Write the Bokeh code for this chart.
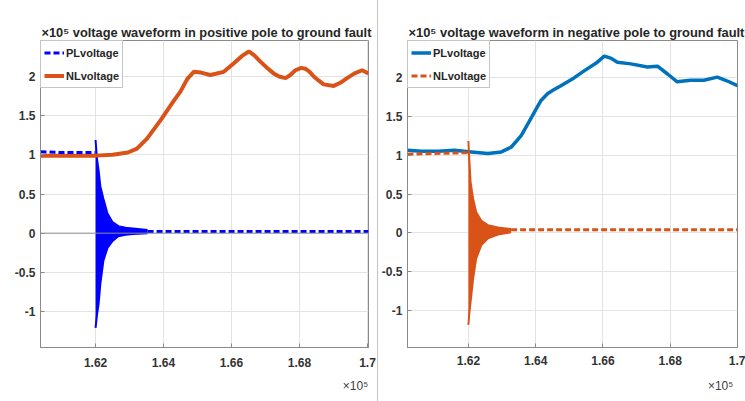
from bokeh.plotting import figure
from bokeh.layouts import row
from bokeh.models import Range1d, FixedTicker, Legend, LegendItem, Span, LinearAxis
from bokeh.embed import file_html
from bokeh.resources import INLINE

nan = float("nan")

# ---------------- data (time axis in units of 1e5) ----------------
x_ticks = [1.62, 1.64, 1.66, 1.68, 1.70]
x_tick_labels = ["1.62", "1.64", "1.66", "1.68", "1.7"]
y_ticks = [-1, -0.5, 0, 0.5, 1, 1.5, 2]
y_tick_labels = ["-1", "-0.5", "0", "0.5", "1", "1.5", "2"]
exp_label = "×10⁵"

# Left panel: positive pole to ground fault
left_title = "voltage waveform in positive pole to ground fault"
t_nl_L = [1.6038, 1.6100, 1.6150, 1.6200, 1.6250, 1.6295, 1.6322, 1.6352, 1.6391, 1.6430,
          1.6450, 1.6470, 1.6489, 1.6510, 1.6538, 1.6577, 1.6607, 1.6630, 1.6651, 1.6667,
          1.6685, 1.6705, 1.6724, 1.6740, 1.6759, 1.6773, 1.6788, 1.6805, 1.6817, 1.6830,
          1.6842, 1.6856, 1.6871, 1.6901, 1.6920, 1.6940, 1.6962, 1.6984, 1.7003]
v_nl_L = [0.99, 0.99, 0.99, 0.99, 1.00, 1.03, 1.08, 1.21, 1.44, 1.69,
          1.81, 1.97, 2.06, 2.05, 2.02, 2.06, 2.17, 2.26, 2.32, 2.27,
          2.19, 2.11, 2.04, 2.00, 1.98, 2.02, 2.08, 2.11, 2.10, 2.06,
          2.00, 1.95, 1.90, 1.88, 1.92, 1.98, 2.04, 2.08, 2.04]
t_pl_L = [1.6038, 1.6100, 1.6199, nan, 1.6353, 1.6500, 1.6700, 1.7003]
v_pl_L = [1.04, 1.03, 1.03, nan, 0.02, 0.02, 0.02, 0.02]
t_osc_L = [1.6200, 1.6204, 1.6209, 1.6214, 1.6223, 1.6235, 1.6250, 1.6267, 1.6288, 1.6310, 1.6353]
up_osc_L = [1.19, 0.95, 0.80, 0.60, 0.44, 0.25, 0.14, 0.09, 0.07, 0.06, 0.04]
lo_osc_L = [-1.21, -1.05, -0.90, -0.65, -0.35, -0.19, -0.10, -0.04, -0.02, -0.01, 0.00]

# Right panel: negative pole to ground fault
right_title = "voltage waveform in negative pole to ground fault"
t_pl_R = [1.6019, 1.6060, 1.6110, 1.6158, 1.6209, 1.6258, 1.6298, 1.6327, 1.6357, 1.6386,
          1.6400, 1.6416, 1.6436, 1.6455, 1.6475, 1.6514, 1.6544, 1.6580, 1.6604, 1.6625,
          1.6643, 1.6683, 1.6732, 1.6762, 1.6792, 1.6821, 1.6860, 1.6900, 1.6940, 1.6970,
          1.7000]
v_pl_R = [1.06, 1.05, 1.05, 1.06, 1.04, 1.02, 1.04, 1.10, 1.25, 1.47,
          1.58, 1.70, 1.79, 1.84, 1.89, 1.99, 2.08, 2.18, 2.27, 2.24,
          2.19, 2.17, 2.13, 2.14, 2.04, 1.94, 1.96, 1.96, 2.00, 1.95,
          1.89]
t_nl_R = [1.6019, 1.6100, 1.6199, nan, 1.6327, 1.6500, 1.6700, 1.7000]
v_nl_R = [1.01, 1.02, 1.03, nan, 0.04, 0.04, 0.04, 0.04]
t_osc_R = [1.6200, 1.6203, 1.62066, 1.6214, 1.6223, 1.6238, 1.6258, 1.6288, 1.6327]
up_osc_R = [1.18, 0.92, 0.65, 0.44, 0.27, 0.16, 0.10, 0.07, 0.05]
lo_osc_R = [-1.18, -1.02, -0.88, -0.59, -0.33, -0.16, -0.07, -0.02, 0.01]

BLUE_PURE = "#0000FF"
BLUE = "#0072BD"
ORANGE = "#D95319"
FONT = "Liberation Sans"
TXT = "#262626"
AX = "#8a8a8a"


def make_fig(width, mbl, mbr, mbt, mbb, xr, yr, title_text, title_size, x_standoff,
             exp_px_from_right, exp_standoff):
    p = figure(width=width, height=401, output_backend="svg", toolbar_location=None,
               x_range=Range1d(*xr), y_range=Range1d(*yr),
               min_border_left=mbl, min_border_right=mbr,
               min_border_top=mbt, min_border_bottom=mbb)
    p.background_fill_color = "white"
    p.border_fill_color = "white"
    p.outline_line_color = AX
    p.outline_line_width = 1
    p.xaxis.ticker = FixedTicker(ticks=x_ticks)
    p.xaxis.major_label_overrides = {t: s for t, s in zip(x_ticks, x_tick_labels)}
    p.yaxis.ticker = FixedTicker(ticks=y_ticks)
    p.yaxis.major_label_overrides = {t: s for t, s in zip(y_ticks, y_tick_labels)}
    for ax in (p.xaxis[0], p.yaxis[0]):
        ax.axis_line_color = AX
        ax.major_tick_line_color = AX
        ax.major_tick_in = 4
        ax.major_tick_out = 0
        ax.minor_tick_line_color = None
        ax.major_label_text_font = FONT
        ax.major_label_text_font_style = "bold"
        ax.major_label_text_font_size = "12px"
        ax.major_label_text_color = "#333333"
    p.xaxis.major_label_standoff = x_standoff
    p.yaxis.major_label_standoff = 5
    p.xgrid.grid_line_color = "#e3e3e3"
    p.ygrid.grid_line_color = "#e3e3e3"
    p.xgrid.ticker = FixedTicker(ticks=x_ticks)
    p.ygrid.ticker = FixedTicker(ticks=y_ticks)

    p.title.text = exp_label + " " + title_text
    p.title.align = "left"
    p.title.offset = 1
    p.title.standoff = 2
    p.title.text_font = FONT
    p.title.text_font_style = "bold"
    p.title.text_font_size = title_size
    p.title.text_color = TXT

    # MATLAB-style exponent label under the x tick labels, near the right end
    frame_w = width - mbl - mbr
    pos = round(xr[1] - exp_px_from_right * (xr[1] - xr[0]) / frame_w, 5)
    exp_axis = LinearAxis(ticker=FixedTicker(ticks=[pos]),
                          major_label_overrides={pos: exp_label},
                          axis_line_color=None, major_tick_line_color=None,
                          minor_tick_line_color=None, major_tick_in=0, major_tick_out=0,
                          major_label_standoff=exp_standoff,
                          major_label_text_font=FONT, major_label_text_font_size="12px",
                          major_label_text_color="#404040")
    p.add_layout(exp_axis, "below")
    return p


def add_legend(p, r1, r2):
    lg = Legend(items=[LegendItem(label="PLvoltage", renderers=[r1]),
                       LegendItem(label="NLvoltage", renderers=[r2])],
                location="top_left", margin=0, padding=3, spacing=6,
                label_height=17, glyph_height=17, glyph_width=20, label_standoff=2,
                label_text_font=FONT, label_text_font_style="bold",
                label_text_font_size="11px", label_text_color=TXT,
                border_line_color="#8c8c8c", background_fill_color="white",
                background_fill_alpha=1)
    p.add_layout(lg)


# ---------------- left figure ----------------
xrL = (1.6038, 1.7003)
yrL = (-1.46, 2.46)
p1 = make_fig(378, 40, 10, 40, 49, xrL, yrL, left_title, "12.8px", 10, 13, 9)
p1.add_layout(Span(location=0, dimension="width", line_color="#8f8f8f", line_width=1))
p1.varea(x=t_osc_L, y1=lo_osc_L, y2=up_osc_L, fill_color=BLUE_PURE)
p1.line(t_osc_L, up_osc_L, line_color=BLUE_PURE, line_width=2)
p1.line(t_osc_L, lo_osc_L, line_color=BLUE_PURE, line_width=2)
r_nl_L = p1.line(t_nl_L, v_nl_L, line_color=ORANGE, line_width=4)
r_pl_L = p1.line(t_pl_L, v_pl_L, line_color=BLUE_PURE, line_width=3, line_dash="6 3")
add_legend(p1, r_pl_L, r_nl_L)
p1.styles = {"border-right": "1px solid #c4c4c4"}

# ---------------- right figure ----------------
xrR = (1.6019, 1.7000)
yrR = (-1.47, 2.47)
p2 = make_fig(367, 28, 8, 38, 54, xrR, yrR, right_title, "12.9px", 8, 17, 11)
r_pl_R = p2.line(t_pl_R, v_pl_R, line_color=BLUE, line_width=3.5)
p2.varea(x=t_osc_R, y1=lo_osc_R, y2=up_osc_R, fill_color=ORANGE)
p2.line(t_osc_R, up_osc_R, line_color=ORANGE, line_width=2)
p2.line(t_osc_R, lo_osc_R, line_color=ORANGE, line_width=2)
r_nl_R = p2.line(t_nl_R, v_nl_R, line_color=ORANGE, line_width=3, line_dash="6 3")
add_legend(p2, r_pl_R, r_nl_R)

layout = row(p1, p2)
open("out.html", "w").write(file_html(layout, INLINE))
